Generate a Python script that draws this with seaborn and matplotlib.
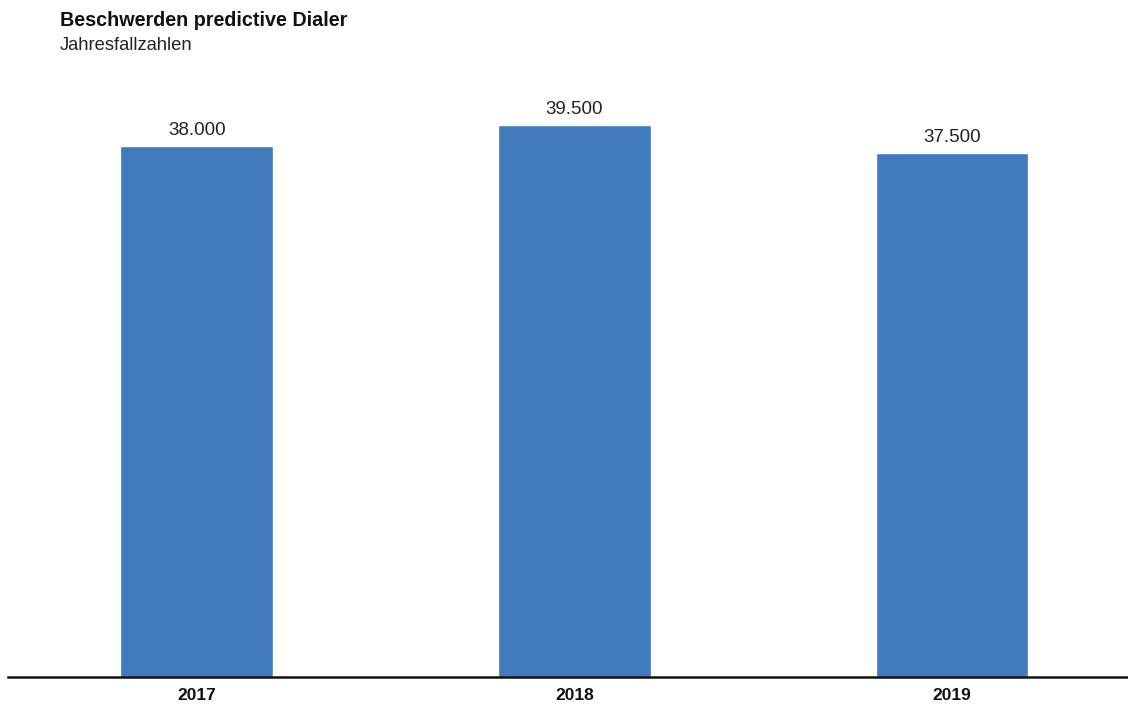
import matplotlib
matplotlib.use("Agg")
import matplotlib.pyplot as plt
import seaborn as sns
import pandas as pd

years = ["2017", "2018", "2019"]
values = [38000, 39500, 37500]
labels = ["38.000", "39.500", "37.500"]
title = "Beschwerden predictive Dialer"
subtitle = "Jahresfallzahlen"

sns.set_style("white")
plt.rcParams["font.family"] = ["Liberation Sans", "DejaVu Sans"]

df = pd.DataFrame({"year": years, "value": values})

fig = plt.figure(figsize=(11.28, 7.08), dpi=100)
ax = fig.add_axes([8 / 1128, 31 / 708, 1 - 8 / 1128, 587 / 708])
sns.barplot(data=df, x="year", y="value", color="#3f7bbd", saturation=1,
            width=0.405, ax=ax)
ax.set_xlim(-0.5, 2.466)
ax.set_ylim(0, 42000)
for i, (v, lab) in enumerate(zip(values, labels)):
    ax.annotate(lab, (i, v), xytext=(0, 5), textcoords="offset points",
                ha="center", va="bottom", fontsize=13.5, color="#222222")
for s in ["top", "right", "left"]:
    ax.spines[s].set_visible(False)
ax.spines["bottom"].set_linewidth(1.8)
ax.spines["bottom"].set_color("#111111")
ax.set_yticks([])
ax.set_xlabel("")
ax.set_ylabel("")
ax.tick_params(axis="x", length=0, pad=8)
for t in ax.get_xticklabels():
    t.set_fontweight("bold")
    t.set_fontsize(12.5)
    t.set_color("#111111")

fig.text(60 / 1128, 1 - 21 / 708, title, fontsize=14.2, fontweight="bold",
         va="center", ha="left", color="#111111")
fig.text(60 / 1128, 1 - 45 / 708, subtitle, fontsize=13.2, va="center",
         ha="left", color="#222222")

fig.savefig("out.png", dpi=100, facecolor="white")
